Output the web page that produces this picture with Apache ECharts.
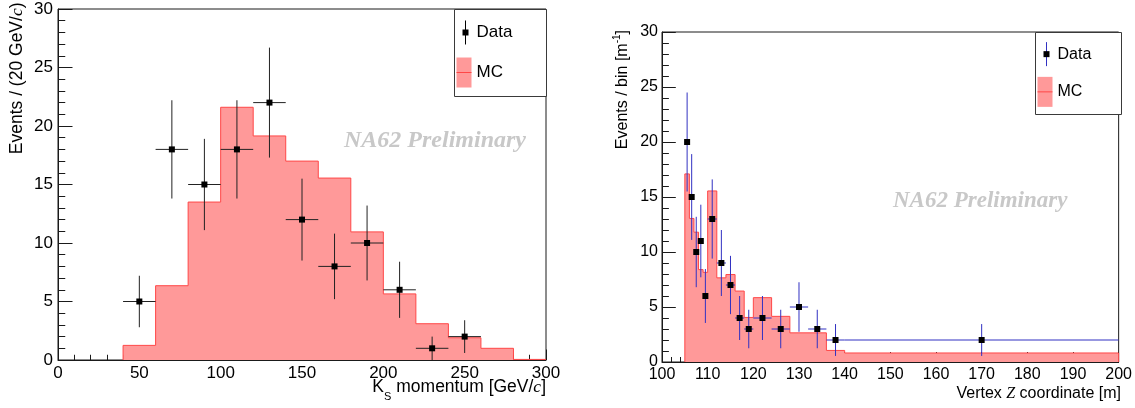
<!DOCTYPE html>
<html>
<head>
<meta charset="utf-8">
<script src="https://cdn.jsdelivr.net/npm/echarts@6/dist/echarts.min.js"></script>
<style>
  html, body { margin: 0; padding: 0; background: #fff; }
  #main { width: 1135px; height: 408px; }
</style>
</head>
<body>
<div id="main"></div>
<script>
// ---- K_S momentum distribution, 20 GeV/c bins ----
const ksMcEdges  = [40, 60, 80, 100, 120, 140, 160, 180, 200, 220, 240, 260, 280, 300];
const ksMcValues = [1.25, 6.35, 13.5, 21.6, 19.15, 17.0, 15.55, 10.95, 5.65, 3.1, 1.9, 1.0, 0.05];
const ksDataX    = [50, 70, 90, 110, 130, 150, 170, 190, 210, 230, 250];
const ksDataY    = [5, 18, 15, 18, 22, 12, 8, 10, 6, 1, 2];
const ksDataXErr = [10, 10, 10, 10, 10, 10, 10, 10, 10, 10, 10];
const ksDataYErr = [2.2, 4.2, 3.9, 4.2, 4.7, 3.5, 2.8, 3.2, 2.4, 1.0, 1.4];

// ---- Vertex Z distribution, variable bins, events per metre ----
const zMcEdges  = [105, 106, 107, 108, 109, 110, 112, 114, 116, 118, 120, 124, 128, 136, 140, 200];
const zMcValues = [17.1, 13.05, 11.8, 8.4, 8.15, 15.55, 7.65, 7.95, 6.45, 4.05, 5.85, 4.15, 2.65, 1.05, 0.82];
const zDataX    = [105.5, 106.5, 107.5, 108.5, 109.5, 111, 113, 115, 117, 119, 122, 126, 130, 134, 138, 170];
const zDataY    = [20, 15, 10, 11, 6, 13, 9, 7, 4, 3, 4, 3, 5, 3, 2, 2];
const zDataXErr = [0.5, 0.5, 0.5, 0.5, 0.5, 1, 1, 1, 1, 1, 2, 2, 2, 2, 2, 30];
const zDataYErr = [4.5, 3.9, 3.2, 3.3, 2.45, 3.6, 3.0, 2.65, 2.0, 1.75, 2.0, 1.75, 2.25, 1.75, 1.45, 1.45];

// ---- axis ranges ----
const ksAxisX = { min: 0, max: 300, interval: 50 };
const zAxisX  = { min: 100, max: 200, interval: 10 };
const yAxisRange = { min: 0, max: 30, interval: 5 };

const SANS = 'Liberation Sans, Arial, Helvetica, sans-serif';
const SERIF = 'Liberation Serif, Times New Roman, serif';
const AXIS_COLOR = '#1a1a1a';
const MC_FILL = '#ff9999';
const MC_LINE = '#ff4747';
const DATA_BLUE = '#3131c2';

// step outline of a histogram: [edge, value] pairs closed down to zero
function histPoints(edges, values) {
  const pts = [[edges[0], 0]];
  for (let i = 0; i < values.length; i++) pts.push([edges[i], values[i]]);
  pts.push([edges[edges.length - 1], values[values.length - 1]]);
  pts.push([edges[edges.length - 1], 0]);
  return pts;
}

function zipPoints(xs, ys, exs, eys) {
  return xs.map((x, i) => [x, ys[i], exs[i], eys[i]]);
}

// data points with x/y error bars and a square marker
function errorRenderer(barColor) {
  return function (params, api) {
    const x = api.value(0), y = api.value(1), ex = api.value(2), ey = api.value(3);
    const c = api.coord([x, y]);
    const top = api.coord([x, y + ey]);
    const bot = api.coord([x, Math.max(0, y - ey)]);
    const lft = api.coord([x - ex, y]);
    const rgt = api.coord([x + ex, y]);
    return {
      type: 'group',
      children: [
        { type: 'line', shape: { x1: lft[0], y1: c[1], x2: rgt[0], y2: c[1] },
          style: { stroke: barColor, lineWidth: 1 } },
        { type: 'line', shape: { x1: c[0], y1: top[1], x2: c[0], y2: bot[1] },
          style: { stroke: barColor, lineWidth: 1 } },
        { type: 'rect', shape: { x: c[0] - 3, y: c[1] - 3, width: 6, height: 6 },
          style: { fill: '#000' } }
      ]
    };
  };
}

function makeXAxis(gridIndex, range, fontSize, tickLen) {
  return {
    type: 'value', gridIndex,
    min: range.min, max: range.max, interval: range.interval,
    axisLine: { show: true, onZero: false, lineStyle: { color: AXIS_COLOR, width: 1 } },
    axisTick: { show: true, inside: true, length: tickLen, lineStyle: { color: AXIS_COLOR, width: 1 } },
    minorTick: { show: true, splitNumber: 5, length: tickLen / 2, lineStyle: { color: AXIS_COLOR, width: 1 } },
    axisLabel: { color: '#000', fontSize, fontFamily: SANS, margin: 5 },
    splitLine: { show: false }
  };
}

function makeYAxis(gridIndex, fontSize, tickLen, margin) {
  return {
    type: 'value', gridIndex,
    min: yAxisRange.min, max: yAxisRange.max, interval: yAxisRange.interval,
    axisLine: { show: true, onZero: false, lineStyle: { color: AXIS_COLOR, width: 1 } },
    axisTick: { show: true, inside: true, length: tickLen, lineStyle: { color: AXIS_COLOR, width: 1 } },
    minorTick: { show: true, splitNumber: 5, length: tickLen / 2, lineStyle: { color: AXIS_COLOR, width: 1 } },
    axisLabel: { color: '#000', fontSize, fontFamily: SANS, margin },
    splitLine: { show: false }
  };
}

function mcSeries(idx, edges, values) {
  return {
    type: 'line', xAxisIndex: idx, yAxisIndex: idx,
    step: 'end', symbol: 'none', silent: true,
    data: histPoints(edges, values),
    lineStyle: { color: MC_LINE, width: 1 },
    areaStyle: { color: MC_FILL, opacity: 1 },
    z: 2
  };
}

function dataSeries(idx, points, color) {
  return {
    type: 'custom', xAxisIndex: idx, yAxisIndex: idx,
    renderItem: errorRenderer(color),
    encode: { x: 0, y: 1 },
    data: points,
    z: 5
  };
}

// legend box with Data and MC entries
function legendBox(x0, y0, x1, y1, lineColor, fs) {
  const h = y1 - y0;
  const dataY = y0 + h * 0.27;
  const mcY = y0 + h * 0.73;
  return [
    { type: 'rect', shape: { x: x0 + 0.5, y: y0 + 0.5, width: x1 - x0, height: y1 - y0 },
      style: { fill: '#fff', stroke: '#3a3a3a', lineWidth: 1 }, z: 50 },
    { type: 'line', shape: { x1: x0 + 11.5, y1: dataY - 12, x2: x0 + 11.5, y2: dataY + 12 },
      style: { stroke: lineColor, lineWidth: 1 }, z: 51 },
    { type: 'rect', shape: { x: x0 + 8.5, y: dataY - 3, width: 6, height: 6 },
      style: { fill: '#000' }, z: 52 },
    { type: 'text', x: x0 + 22.5, y: dataY,
      style: { text: 'Data', font: fs + 'px ' + SANS, fill: '#000', textVerticalAlign: 'middle' }, z: 52 },
    { type: 'rect', shape: { x: x0 + 2.5, y: mcY - 15, width: 15, height: 30 },
      style: { fill: MC_FILL }, z: 51 },
    { type: 'line', shape: { x1: x0 + 2.5, y1: mcY, x2: x0 + 17.5, y2: mcY },
      style: { stroke: MC_LINE, lineWidth: 1 }, z: 52 },
    { type: 'text', x: x0 + 22.5, y: mcY,
      style: { text: 'MC', font: fs + 'px ' + SANS, fill: '#000', textVerticalAlign: 'middle' }, z: 52 }
  ];
}

function richTitle(x, y, text, rich, align, rotation) {
  return {
    type: 'text', x, y, rotation: rotation || 0, z: 60,
    style: { text, rich, align, verticalAlign: 'middle', textAlign: align, textVerticalAlign: 'middle', fill: '#000' }
  };
}

const chart = echarts.init(document.getElementById('main'), null, { renderer: 'canvas' });

const leftRich = {
  a: { fontSize: 17.5, fontFamily: SANS, lineHeight: 30, color: '#000' },
  i: { fontSize: 17.5, fontFamily: SERIF, fontStyle: 'italic', lineHeight: 30, color: '#000' },
  s: { fontSize: 11, fontFamily: SANS, lineHeight: 11, verticalAlign: 'bottom', color: '#000' }
};
const rightRich = {
  a: { fontSize: 16, fontFamily: SANS, lineHeight: 22, color: '#000' },
  i: { fontSize: 16, fontFamily: SERIF, fontStyle: 'italic', lineHeight: 22, color: '#000' },
  p: { fontSize: 10, fontFamily: SANS, lineHeight: 10, verticalAlign: 'top', color: '#000' }
};

const option = {
  animation: false,
  backgroundColor: '#fff',
  grid: [
    { left: 58, top: 9, width: 488, height: 351, show: true, borderColor: AXIS_COLOR, borderWidth: 1, backgroundColor: 'transparent' },
    { left: 662, top: 32, width: 459, height: 330, show: true, borderColor: AXIS_COLOR, borderWidth: 1, backgroundColor: 'transparent' }
  ],
  xAxis: [
    makeXAxis(0, ksAxisX, 17, 10.5),
    makeXAxis(1, zAxisX, 16, 10)
  ],
  yAxis: [
    makeYAxis(0, 17, 14.5, 5),
    makeYAxis(1, 16, 13.8, 4)
  ],
  series: [
    mcSeries(0, ksMcEdges, ksMcValues),
    dataSeries(0, zipPoints(ksDataX, ksDataY, ksDataXErr, ksDataYErr), '#222'),
    mcSeries(1, zMcEdges, zMcValues),
    dataSeries(1, zipPoints(zDataX, zDataY, zDataXErr, zDataYErr), DATA_BLUE)
  ],
  graphic: [
    // watermarks
    { type: 'text', x: 344, y: 141, z: 1,
      style: { text: 'NA62 Preliminary', font: 'italic bold 24px ' + SERIF, fill: '#c8c8c8', textVerticalAlign: 'middle' } },
    { type: 'text', x: 893, y: 201, z: 1,
      style: { text: 'NA62 Preliminary', font: 'italic bold 23px ' + SERIF, fill: '#c8c8c8', textVerticalAlign: 'middle' } },
    // axis titles
    richTitle(546, 387, '{a|K}{s|S}{a| momentum [GeV/}{i|c}{a|]}', leftRich, 'right'),
    richTitle(17, 2.5, '{a|Events / (20 GeV/}{i|c}{a|)}', leftRich, 'right', Math.PI / 2),
    richTitle(1121, 393.5, '{a|Vertex }{i|Z}{a| coordinate [m]}', rightRich, 'right'),
    richTitle(623, 30, '{a|Events / bin [m}{p|-1}{a|]}', rightRich, 'right', Math.PI / 2),
    // legends
    ...legendBox(454, 9, 546, 96, '#000', 17),
    ...legendBox(1035, 32, 1121, 114, DATA_BLUE, 16)
  ]
};

chart.setOption(option);
</script>
</body>
</html>
